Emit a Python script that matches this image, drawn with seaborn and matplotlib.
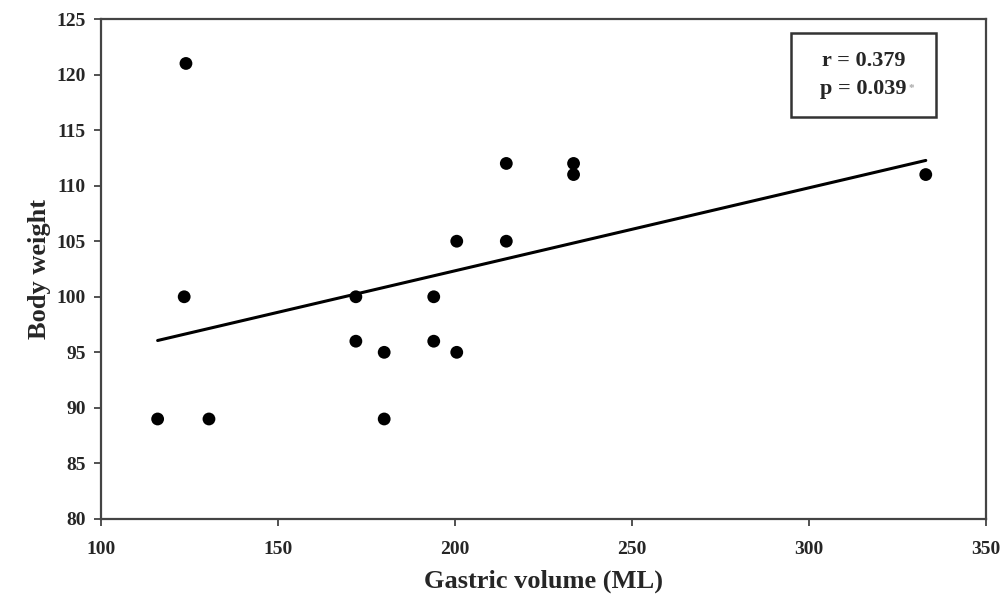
import matplotlib
matplotlib.use("Agg")
import matplotlib.pyplot as plt
from matplotlib.patches import Rectangle
import seaborn as sns
import pandas as pd

# data
gastric_volume = [124, 123.5, 116, 130.5, 172, 172, 180, 180, 194, 194,
                  200.5, 200.5, 214.5, 214.5, 233.5, 233.5, 333]
body_weight = [121, 100, 89, 89, 100, 96, 95, 89, 100, 96,
               105, 95, 112, 105, 112, 111, 111]
x_ticks = [100, 150, 200, 250, 300, 350]
y_ticks = [80, 85, 90, 95, 100, 105, 110, 115, 120, 125]
r_text = "r = 0.379"
p_text = "p = 0.039"

df = pd.DataFrame({"Gastric volume (ML)": gastric_volume, "Body weight": body_weight})

sns.set_style("white")
plt.rcParams["font.family"] = ["Liberation Serif", "DejaVu Serif"]
plt.rcParams["font.weight"] = "bold"

fig = plt.figure(figsize=(10.03, 5.94), dpi=100)
ax = fig.add_axes([0.1007, 0.1263, 0.8823, 0.8417])

sns.regplot(data=df, x="Gastric volume (ML)", y="Body weight", ci=None, ax=ax,
            scatter_kws={"s": 85, "color": "black", "edgecolor": "none", "alpha": 1},
            line_kws={"color": "black", "lw": 2.2})

ax.set_xlim(100, 350)
ax.set_ylim(80, 125)
ax.set_xticks(x_ticks)
ax.set_yticks(y_ticks)
ax.tick_params(axis="both", direction="out", length=5, width=1.2, color="#333333",
               labelsize=14, pad=6, bottom=True, left=True)
ax.tick_params(axis="x", pad=11)
for lbl in ax.get_xticklabels() + ax.get_yticklabels():
    lbl.set_fontweight("bold")
for sp in ax.spines.values():
    sp.set_visible(True)
    sp.set_color("#444444")
    sp.set_linewidth(1.6)

ax.set_xlabel("Gastric volume (ML)", fontsize=19, fontweight="bold", labelpad=8)
ax.set_ylabel("Body weight", fontsize=19, fontweight="bold", labelpad=4)

# stats box
ax.add_patch(Rectangle((0.780, 0.804), 0.1635, 0.168, transform=ax.transAxes,
                       facecolor="white", edgecolor="#333333", linewidth=1.8, zorder=5))
ax.text(0.8616, 0.888, r_text + "\n" + p_text, transform=ax.transAxes, ha="center", va="center",
        fontsize=16, fontweight="bold", linespacing=1.55, zorder=6)
ax.text(0.912, 0.862, "*", transform=ax.transAxes, ha="left", va="center",
        fontsize=8, color="#aaaaaa", zorder=6)

fig.savefig("out.png", dpi=100)
